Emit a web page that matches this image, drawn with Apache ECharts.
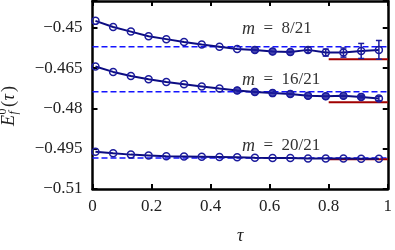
<!DOCTYPE html>
<html>
<head>
<meta charset="utf-8">
<script src="https://cdn.jsdelivr.net/npm/echarts@6/dist/echarts.min.js"></script>
<style>html,body{margin:0;padding:0;background:#fff;}#c{width:395px;height:250px;}</style>
</head>
<body>
<div id="c"></div>
<script>
// ---- data ----
const tau = [0.01, 0.07, 0.13, 0.19, 0.25, 0.31, 0.37, 0.43, 0.49, 0.55, 0.61, 0.67, 0.73, 0.79, 0.85, 0.91, 0.97];
const e8  = [-0.4474, -0.4497, -0.4514, -0.4531, -0.4542, -0.4553, -0.4562, -0.4570, -0.4579, -0.4582, -0.4588, -0.4590, -0.4582, -0.4592, -0.4592, -0.4586, -0.4582];
const err8 = [0, 0, 0, 0, 0, 0, 0, 0, 0, 0, 0, 0, 0.0009, 0.0013, 0.0017, 0.0028, 0.0035];
const e16 = [-0.4644, -0.4664, -0.4679, -0.4691, -0.4702, -0.4710, -0.4718, -0.4726, -0.4733, -0.4739, -0.4743, -0.4746, -0.4753, -0.4755, -0.4753, -0.4757, -0.4763];
const err16 = [0, 0, 0, 0, 0, 0, 0, 0, 0, 0, 0, 0, 0, 0, 0, 0.0004, 0.0008];
const e20 = [-0.4961, -0.4967, -0.4972, -0.4975, -0.4978, -0.4979, -0.4980, -0.4981, -0.4982, -0.4984, -0.4985, -0.4985, -0.4986, -0.4986, -0.4986, -0.4987, -0.4987];
const err20 = [0, 0, 0, 0, 0, 0, 0, 0, 0, 0, 0, 0, 0, 0, 0, 0, 0];
const dashLevels = [-0.4570, -0.4738, -0.4985];
const redLevels  = [-0.4617, -0.4777, -0.4989];
const redStart = 0.8;
const labels = ['m = 8/21', 'm = 16/21', 'm = 20/21'];
const xTicks = [0, 0.2, 0.4, 0.6, 0.8, 1];
const yTicks = [-0.51, -0.495, -0.48, -0.465, -0.45];

// ---- styling ----
const NAVY = '#0c0c82';
const MARK = '#1b1b9c';
const FONT = 'Liberation Serif';

const chart = echarts.init(document.getElementById('c'), null, {renderer: 'canvas'});

function fmtY(v) {
  const r = Math.round(v * 1000) / 1000;
  if (!yTicks.some(t => Math.abs(t - r) < 1e-9)) return '';
  let s = (-r).toFixed(3).replace(/0+$/, '').replace(/\.$/, '');
  return '\u2212' + s;
}
function fmtX(v) {
  const r = Math.round(v * 10) / 10;
  return xTicks.some(t => Math.abs(t - r) < 1e-9) ? String(r) : '';
}

const axisLineStyle = {show: true, onZero: false, lineStyle: {color: '#000', width: 2.5}};
const tickStyle = {show: true, inside: true, length: 5, lineStyle: {color: '#000', width: 2}};
const labelStyle = {fontFamily: FONT, fontSize: 17, color: '#222'};

function pairs(ys) { return tau.map((t, i) => [t, ys[i]]); }
function triples(ys, es) { return tau.map((t, i) => [t, ys[i], es[i]]); }

const curves = [
  {vals: e8, errs: err8, fill: [9, 12]},
  {vals: e16, errs: err16, fill: [8, 16]},
  {vals: e20, errs: err20, fill: [0, 0]}
];

const series = [];
dashLevels.forEach(v => {
  series.push({type: 'line', data: [[0, v], [1, v]], symbol: 'none', silent: true, z: 1,
    lineStyle: {color: '#1414ff', width: 1.5, type: [6, 3]}});
});
redLevels.forEach(v => {
  series.push({type: 'line', data: [[redStart, v], [1, v]], symbol: 'none', silent: true, z: 1,
    lineStyle: {color: '#a00000', width: 2}});
});
curves.forEach(c => {
  series.push({type: 'line', data: pairs(c.vals), symbol: 'circle', symbolSize: 7, z: 3,
    lineStyle: {color: NAVY, width: 2},
    itemStyle: {color: 'rgba(0,0,0,0)', borderColor: MARK, borderWidth: 1.5}});
  series.push({type: 'custom', z: 4, data: triples(c.vals, c.errs), encode: {x: 0, y: 1},
    renderItem: function (params, api) {
      const x = api.value(0), y = api.value(1), e = api.value(2);
      if (!e) return {type: 'group', children: []};
      const p1 = api.coord([x, y + e]), p2 = api.coord([x, y - e]);
      const w = 3, st = {stroke: MARK, lineWidth: 1.5};
      return {type: 'group', children: [
        {type: 'line', shape: {x1: p1[0], y1: p1[1], x2: p2[0], y2: p2[1]}, style: st},
        {type: 'line', shape: {x1: p1[0] - w, y1: p1[1], x2: p1[0] + w, y2: p1[1]}, style: st},
        {type: 'line', shape: {x1: p2[0] - w, y1: p2[1], x2: p2[0] + w, y2: p2[1]}, style: st}
      ]};
    }});
  const fd = pairs(c.vals).slice(c.fill[0], c.fill[1]);
  if (fd.length) {
    series.push({type: 'scatter', data: fd, symbol: 'circle', symbolSize: 7, z: 5,
      itemStyle: {color: MARK, borderColor: MARK, borderWidth: 1}});
  }
});

const labelY = [30, 81, 147];
const graphic = labels.map((t, i) => ({
  type: 'text', left: 242, top: labelY[i] - 10,
  style: {text: '{i|m}\u2002=\u2002' + t.split('= ')[1], font: '17px ' + FONT, fill: '#333',
    rich: {i: {fontStyle: 'italic', fontFamily: FONT, fontSize: 18, fill: '#333'}}}
}));
graphic.push({
  type: 'group', x: 9, y: 126, rotation: Math.PI / 2,
  children: [
    {type: 'text', x: 0, y: 0, style: {text: 'E', font: 'italic 18px ' + FONT, fill: '#222', verticalAlign: 'middle', align: 'left'}},
    {type: 'text', x: 11.5, y: -6, style: {text: '0', font: '12px ' + FONT, fill: '#222', verticalAlign: 'middle', align: 'left'}},
    {type: 'text', x: 11.5, y: 5, style: {text: 'f', font: 'italic 12px ' + FONT, fill: '#222', verticalAlign: 'middle', align: 'left'}},
    {type: 'text', x: 19, y: 0, style: {text: '(', font: '18px ' + FONT, fill: '#222', verticalAlign: 'middle', align: 'left'}},
    {type: 'text', x: 25.5, y: 0, style: {text: 'τ', font: 'italic 18px ' + FONT, fill: '#222', verticalAlign: 'middle', align: 'left'}},
    {type: 'text', x: 34, y: 0, style: {text: ')', font: '18px ' + FONT, fill: '#222', verticalAlign: 'middle', align: 'left'}}
  ]
});

chart.setOption({
  animation: false,
  backgroundColor: '#fff',
  grid: {left: 92.5, right: 3, top: 1, bottom: 49.5, containLabel: false},
  xAxis: [
    {type: 'value', min: 0, max: 1, interval: 0.2, position: 'bottom',
      axisLine: axisLineStyle, axisTick: tickStyle, splitLine: {show: false},
      axisLabel: Object.assign({margin: 9, formatter: fmtX}, labelStyle),
      name: 'τ', nameLocation: 'middle', nameGap: 38,
      nameTextStyle: {fontFamily: FONT, fontSize: 18, fontStyle: 'italic', color: '#222'}},
    {type: 'value', min: 0, max: 1, interval: 0.2, position: 'top',
      axisLine: axisLineStyle, axisTick: tickStyle, splitLine: {show: false}, axisLabel: {show: false}}
  ],
  yAxis: [
    {type: 'value', min: -0.51, max: -0.44, interval: 0.015, position: 'left',
      axisLine: axisLineStyle, axisTick: tickStyle, splitLine: {show: false},
      axisLabel: Object.assign({margin: 10, formatter: fmtY}, labelStyle)},
    {type: 'value', min: -0.51, max: -0.44, interval: 0.015, position: 'right',
      axisLine: axisLineStyle, axisTick: tickStyle, splitLine: {show: false}, axisLabel: {show: false}}
  ],
  series: series,
  graphic: graphic
});
</script>
</body>
</html>
